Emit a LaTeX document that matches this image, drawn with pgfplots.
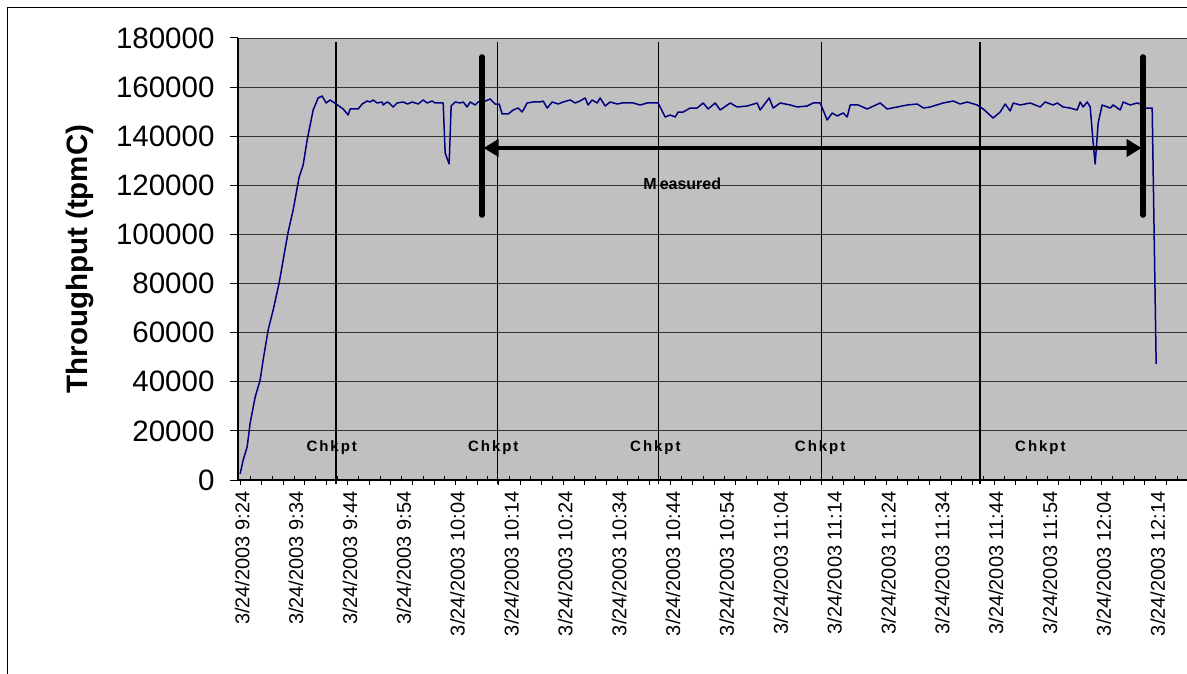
\documentclass[border=0pt]{standalone}
\usepackage{pgfplots}
\pgfplotsset{compat=1.18}
\usepackage{fontspec}
\setmainfont{Liberation Sans}
\newfontfamily\chkfont[LetterSpace=13.0]{Liberation Sans Bold}
\usetikzlibrary{arrows.meta}
\definecolor{plotgray}{RGB}{192,192,192}
\definecolor{navy}{RGB}{0,0,128}
\definecolor{gridc}{RGB}{50,50,50}
\begin{document}
\begin{tikzpicture}
\draw[black, line width=1pt] (7.5pt,-20pt) -- (7.5pt,665.5pt) -- (1200pt,665.5pt);
\begin{axis}[
  at={(238pt,193pt)}, anchor=south west,
  scale only axis, width=949.4pt, height=442pt,
  xmin=-0.4, xmax=175.9, ymin=0, ymax=180000,
  clip=false,
  axis x line*=bottom, axis y line*=left,
  axis line style={black, line width=1.2pt},
  axis background/.style={fill=plotgray},
  ymajorgrids, grid style={gridc, line width=0.9pt},
  ytick={0,20000,40000,60000,80000,100000,120000,140000,160000,180000},
  yticklabels={0,20000,40000,60000,80000,100000,120000,140000,160000,180000},
  yticklabel style={font=\fontsize{29.5}{30}\selectfont, xshift=-12pt},
  scaled y ticks=false,
  tick align=outside, major tick length=8pt,
  ytick style={black, line width=1pt},
  xtick style={draw=none},
  xtick={0,10,20,30,40,50,60,70,80,90,100,110,120,130,140,150,160,170},
  xticklabels={3/24/2003 9:24,3/24/2003 9:34,3/24/2003 9:44,3/24/2003 9:54,3/24/2003 10:04,3/24/2003 10:14,3/24/2003 10:24,3/24/2003 10:34,3/24/2003 10:44,3/24/2003 10:54,3/24/2003 11:04,3/24/2003 11:14,3/24/2003 11:24,3/24/2003 11:34,3/24/2003 11:44,3/24/2003 11:54,3/24/2003 12:04,3/24/2003 12:14},
  xticklabel style={font=\fontsize{20}{21}\selectfont, rotate=90, anchor=east, yshift=-2pt},
  ylabel={\textbf{Throughput (tpmC)}},
  ylabel style={font=\fontsize{29.5}{30}\selectfont, at={(axis description cs:-0.1665,0.5)}, anchor=center},
]
% outside tick marks
\addplot[ycomb, black, line width=1pt, mark=none] coordinates {
(0,-2000) (4,-2000) (8,-2000) (12,-2000) (16,-2000) (20,-2000) (24,-2000) (28,-2000) (32,-2000) (36,-2000)
(40,-2000) (44,-2000) (48,-2000) (52,-2000) (56,-2000) (60,-2000) (64,-2000) (68,-2000) (72,-2000) (76,-2000)
(80,-2000) (84,-2000) (88,-2000) (92,-2000) (96,-2000) (100,-2000) (104,-2000) (108,-2000) (112,-2000) (116,-2000)
(120,-2000) (124,-2000) (128,-2000) (132,-2000) (136,-2000) (140,-2000) (144,-2000) (148,-2000) (152,-2000) (156,-2000)
(160,-2000) (164,-2000) (168,-2000) (172,-2000)};
% inside tick marks
\addplot[ycomb, black, line width=1pt, mark=none] coordinates {
(2,1600) (6,1600) (10,1600) (14,1600) (18,1600) (22,1600) (26,1600) (30,1600) (34,1600) (38,1600)
(42,1600) (46,1600) (50,1600) (54,1600) (58,1600) (62,1600) (66,1600) (70,1600) (74,1600) (78,1600)
(82,1600) (86,1600) (90,1600) (94,1600) (98,1600) (102,1600) (106,1600) (110,1600) (114,1600) (118,1600)
(122,1600) (126,1600) (130,1600) (134,1600) (138,1600) (142,1600) (146,1600) (150,1600) (154,1600) (158,1600)
(162,1600) (166,1600) (170,1600) (174,1600)};
% checkpoint lines
\addplot[black, line width=1.4pt, mark=none] coordinates {(17.8,-1600) (17.8,178300)};
\addplot[black, line width=1.4pt, mark=none] coordinates {(47.8,-1600) (47.8,178300)};
\addplot[black, line width=1.4pt, mark=none] coordinates {(77.7,-1600) (77.7,178300)};
\addplot[black, line width=1.4pt, mark=none] coordinates {(107.9,-1600) (107.9,178300)};
\addplot[black, line width=1.4pt, mark=none] coordinates {(137.4,-1600) (137.4,178300)};
% throughput
\addplot[navy, line width=1.5pt, mark=none, line join=round] coordinates {
(0,2500) (0.56,8150) (1.30,13440) (1.86,23210) (2.79,33800) (3.71,40720) (4.27,48870) (5.20,61090)
(6.13,69230) (7.24,80230) (7.99,89590) (8.91,100990) (9.84,109950) (10.96,123390) (11.70,128270)
(12.44,138460) (13.56,150680) (14.48,155570) (15.23,156380) (15.97,153530) (16.71,154750) (17.83,153120)
(19.13,151090) (20.06,148640) (20.43,151090) (21.91,151090) (22.66,153120) (23.58,154340) (24.14,153940)
(24.70,154750) (25.44,153530) (26.37,153940) (26.56,152720) (27.30,153940) (27.67,153530) (28.41,151900)
(29.16,153530) (30.27,153940) (31.10,153120) (31.94,153940) (33.05,153120) (33.98,154750) (34.73,153530) (35.65,154340)
(36.21,153530) (37.70,153530) (38.07,133170) (38.81,128690) (39.18,152310) (39.93,153940) (40.85,153530)
(41.41,153940) (42.15,151900) (42.71,153940) (43.64,152720) (44.20,153940) (45.13,153940) (46.43,155160)
(47.35,153120) (48.10,153120) (48.65,149050) (49.77,149050) (50.70,150680) (51.62,151490) (52.37,149860)
(53.30,153530) (54.41,153940) (55.71,153940) (56.27,154340) (57.01,151490) (57.94,153940) (59.05,153120)
(59.98,153940) (61.28,154750) (62.21,153530) (63.10,154340) (64.07,155570) (64.60,152720) (65.37,154750) (66.30,153530) (66.85,155570)
(67.78,152310) (68.71,153940) (70.01,153120) (70.94,153530) (72.98,153530) (74.28,152720) (75.58,153530)
(77.62,153530) (78.92,147830) (79.85,148640) (80.78,147830) (81.34,149860) (82.27,149860) (83.57,151490)
(84.87,151490) (85.98,153530) (86.91,151090) (88.21,153530) (89.14,150680) (91.00,153530) (92.29,151900)
(94.15,152310) (96.01,153530) (96.56,150680) (98.24,155570) (98.98,151490) (100.28,153530) (102.14,152720)
(103.44,151900) (105.29,152310) (106.41,153530) (107.71,153530) (109.01,146610) (109.94,149460)
(110.86,148240) (111.98,149460) (112.72,147830) (113.28,152720) (114.76,152720) (116.43,151090)
(118.85,153530) (120.15,151090) (122.01,151900) (123.86,152720) (125.72,153120) (126.90,151490) (128.13,151900)
(130.55,153530) (132.41,154340) (133.70,153120) (135.00,153940) (136.86,152720) (137.98,151090)
(139.83,147420) (141.13,149860) (142.06,153120) (142.99,150270) (143.55,153530) (144.85,152720)
(146.70,153530) (148.56,151900) (149.49,153940) (150.97,152720) (151.72,153530) (152.83,151900)
(154.10,151490) (155.43,150680) (155.99,153940) (156.55,151900) (157.29,153940) (157.85,151900) (158.40,137240)
(158.77,128690) (159.33,145390) (160.07,152720) (161.56,151490) (162.12,152720) (163.42,150680)
(163.97,153940) (165.27,152720) (166.57,153530) (167.69,152720) (168.06,151490) (169.36,151490)
(170.10,47240)};
% measured interval markers
\addplot[black, line width=5.5pt, line cap=round, mark=none] coordinates {(44.94,107900) (44.94,172300)};
\addplot[black, line width=5.5pt, line cap=round, mark=none] coordinates {(167.69,107900) (167.69,172300)};
\addplot[black, line width=3.5pt, mark=none, {Triangle[length=15pt,width=17pt]}-{Triangle[length=15pt,width=17pt]}] coordinates {(45.2,135200) (167.4,135200)};
\node[font=\fontsize{16}{17}\selectfont\bfseries] at (axis cs:82.1,120540) {M\hspace{3pt}easured};
\node[font=\fontsize{15}{16}\chkfont] at (axis cs:17.0,13230) {C\hspace{2pt}hkpt};
\node[font=\fontsize{15}{16}\chkfont] at (axis cs:47.0,13230) {C\hspace{2pt}hkpt};
\node[font=\fontsize{15}{16}\chkfont] at (axis cs:77.1,13230) {C\hspace{2pt}hkpt};
\node[font=\fontsize{15}{16}\chkfont] at (axis cs:107.7,13230) {C\hspace{2pt}hkpt};
\node[font=\fontsize{15}{16}\chkfont] at (axis cs:148.6,13230) {C\hspace{2pt}hkpt};
\end{axis}
\pgfresetboundingbox
\useasboundingbox (0pt,0pt) rectangle (1187pt,673pt);
\end{tikzpicture}
\end{document}
